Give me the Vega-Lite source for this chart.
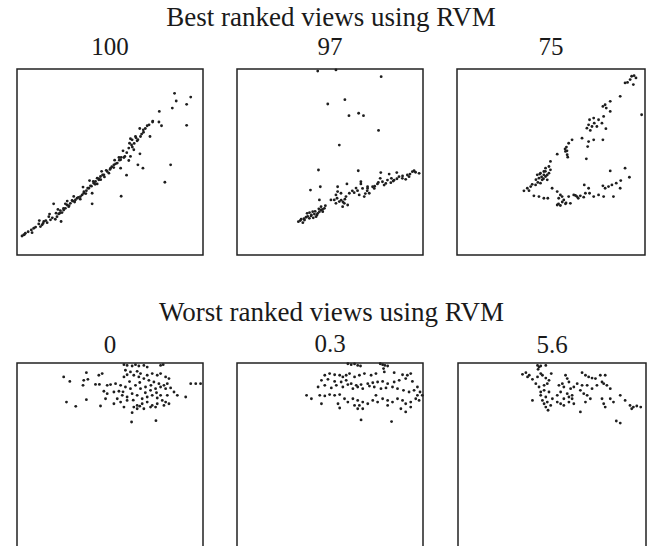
{
"$schema":"https://vega.github.io/schema/vega-lite/v6.json",
"background":"white",
"padding":{"left":16,"top":3,"right":4,"bottom":0},
"config":{"view":{"stroke":"#222","strokeWidth":1.5},"title":{"font":"Liberation Serif","fontSize":25,"fontWeight":"normal","color":"#1a1a1a","offset":6},"concat":{"spacing":32}},
"datasets":{"pts":[
{"p":"100","x":84.7,"y":86.9},{"p":"100","x":93.4,"y":84.9},{"p":"100","x":85.6,"y":82.8},{"p":"100","x":91.2,"y":81.0},{"p":"100","x":83.5,"y":79.0},{"p":"100","x":76.5,"y":77.2},{"p":"100","x":76.3,"y":71.5},{"p":"100","x":72.9,"y":71.5},{"p":"100","x":77.7,"y":69.5},{"p":"100","x":91.2,"y":69.7},{"p":"100","x":70.0,"y":69.5},{"p":"100","x":67.9,"y":67.3},{"p":"100","x":71.5,"y":63.7},{"p":"100","x":66.4,"y":63.7},{"p":"100","x":63.7,"y":63.7},{"p":"100","x":61.9,"y":61.9},{"p":"100","x":64.6,"y":61.4},{"p":"100","x":60.5,"y":60.1},{"p":"100","x":61.6,"y":59.2},{"p":"100","x":60.1,"y":57.5},{"p":"100","x":62.8,"y":56.6},{"p":"100","x":66.1,"y":54.4},{"p":"100","x":61.0,"y":53.0},{"p":"100","x":57.5,"y":52.4},{"p":"100","x":54.8,"y":52.4},{"p":"100","x":55.7,"y":51.2},{"p":"100","x":60.1,"y":50.8},{"p":"100","x":53.9,"y":49.4},{"p":"100","x":52.1,"y":48.5},{"p":"100","x":65.0,"y":48.5},{"p":"100","x":67.7,"y":46.7},{"p":"100","x":82.6,"y":48.5},{"p":"100","x":55.7,"y":46.7},{"p":"100","x":50.3,"y":46.7},{"p":"100","x":48.5,"y":44.9},{"p":"100","x":49.4,"y":44.0},{"p":"100","x":46.7,"y":43.1},{"p":"100","x":58.9,"y":42.9},{"p":"100","x":44.9,"y":42.2},{"p":"100","x":43.1,"y":41.3},{"p":"100","x":44.0,"y":40.4},{"p":"100","x":42.2,"y":39.5},{"p":"100","x":41.3,"y":38.6},{"p":"100","x":43.1,"y":38.2},{"p":"100","x":79.5,"y":39.1},{"p":"100","x":39.5,"y":37.2},{"p":"100","x":38.6,"y":35.9},{"p":"100","x":37.3,"y":34.6},{"p":"100","x":35.9,"y":33.2},{"p":"100","x":35.0,"y":32.3},{"p":"100","x":40.4,"y":33.2},{"p":"100","x":56.0,"y":31.6},{"p":"100","x":34.1,"y":31.4},{"p":"100","x":32.3,"y":30.5},{"p":"100","x":31.4,"y":29.6},{"p":"100","x":29.6,"y":29.3},{"p":"100","x":28.7,"y":27.8},{"p":"100","x":40.4,"y":27.5},{"p":"100","x":26.9,"y":26.9},{"p":"100","x":27.8,"y":26.0},{"p":"100","x":26.0,"y":25.1},{"p":"100","x":25.1,"y":24.2},{"p":"100","x":23.3,"y":23.9},{"p":"100","x":24.2,"y":22.8},{"p":"100","x":22.4,"y":22.1},{"p":"100","x":19.7,"y":27.5},{"p":"100","x":21.5,"y":20.6},{"p":"100","x":23.7,"y":18.0},{"p":"100","x":20.6,"y":19.2},{"p":"100","x":17.1,"y":20.6},{"p":"100","x":18.0,"y":18.9},{"p":"100","x":16.2,"y":17.4},{"p":"100","x":14.4,"y":18.0},{"p":"100","x":13.5,"y":16.2},{"p":"100","x":11.7,"y":16.7},{"p":"100","x":12.6,"y":15.3},{"p":"100","x":9.0,"y":14.4},{"p":"100","x":7.7,"y":13.5},{"p":"100","x":8.1,"y":12.0},{"p":"100","x":4.5,"y":11.7},{"p":"100","x":3.6,"y":10.8},{"p":"100","x":2.7,"y":10.2},
{"p":"100","x":4.0,"y":11.0},{"p":"100","x":6.0,"y":12.5},{"p":"100","x":10.0,"y":15.0},{"p":"100","x":14.0,"y":17.0},{"p":"100","x":15.5,"y":18.5},{"p":"100","x":19.0,"y":20.0},{"p":"100","x":21.0,"y":22.5},{"p":"100","x":23.0,"y":22.5},{"p":"100","x":25.0,"y":25.0},{"p":"100","x":26.0,"y":27.5},{"p":"100","x":28.0,"y":26.5},{"p":"100","x":30.0,"y":29.0},{"p":"100","x":31.0,"y":28.5},{"p":"100","x":33.0,"y":31.0},{"p":"100","x":34.0,"y":30.0},{"p":"100","x":36.0,"y":34.0},{"p":"100","x":37.0,"y":33.0},{"p":"100","x":38.0,"y":36.0},{"p":"100","x":40.0,"y":37.0},{"p":"100","x":41.0,"y":39.5},{"p":"100","x":42.0,"y":38.0},{"p":"100","x":44.0,"y":41.0},{"p":"100","x":45.0,"y":40.5},{"p":"100","x":46.0,"y":43.0},{"p":"100","x":47.0,"y":42.0},{"p":"100","x":48.0,"y":45.5},{"p":"100","x":50.0,"y":46.0},{"p":"100","x":51.0,"y":47.5},{"p":"100","x":52.0,"y":47.0},{"p":"100","x":53.0,"y":49.0},{"p":"100","x":55.0,"y":51.0},{"p":"100","x":56.0,"y":52.5},{"p":"100","x":58.0,"y":53.0},{"p":"100","x":59.0,"y":55.0},{"p":"100","x":62.0,"y":58.0},{"p":"100","x":63.0,"y":60.0},{"p":"100","x":65.0,"y":62.0},{"p":"100","x":67.0,"y":65.0},{"p":"100","x":69.0,"y":68.0},{"p":"100","x":71.0,"y":70.0},{"p":"100","x":73.0,"y":72.0},{"p":"100","x":68.0,"y":66.0},{"p":"100","x":64.0,"y":63.0},
{"p":"100","x":30.5,"y":31.5},{"p":"100","x":27.0,"y":29.0},{"p":"100","x":22.0,"y":24.5},{"p":"100","x":17.5,"y":22.0},{"p":"100","x":12.0,"y":18.5},{"p":"100","x":35.5,"y":36.5},{"p":"100","x":39.0,"y":40.0},{"p":"100","x":45.5,"y":45.0},{"p":"100","x":52.5,"y":51.0},{"p":"100","x":57.0,"y":56.0},{"p":"100","x":61.0,"y":62.5},{"p":"100","x":66.0,"y":68.0},
{"p":"97","x":43.4,"y":98.9},{"p":"97","x":53.2,"y":99.5},{"p":"97","x":77.5,"y":95.9},{"p":"97","x":48.8,"y":81.2},{"p":"97","x":58.0,"y":83.5},{"p":"97","x":60.2,"y":74.9},{"p":"97","x":65.4,"y":76.2},{"p":"97","x":68.0,"y":74.9},{"p":"97","x":76.1,"y":67.0},{"p":"97","x":55.0,"y":59.1},{"p":"97","x":43.8,"y":45.7},{"p":"97","x":65.2,"y":45.3},{"p":"97","x":39.5,"y":34.9},{"p":"97","x":44.8,"y":36.7},{"p":"97","x":44.3,"y":29.6},{"p":"97","x":54.1,"y":36.7},{"p":"97","x":59.1,"y":38.2},{"p":"97","x":66.6,"y":39.4},{"p":"97","x":77.3,"y":44.3},{"p":"97","x":81.8,"y":43.5},{"p":"97","x":85.9,"y":44.3},{"p":"97","x":94.3,"y":44.8},{"p":"97","x":97.9,"y":43.9},{"p":"97","x":92.5,"y":42.1},{"p":"97","x":88.9,"y":41.2},{"p":"97","x":84.5,"y":40.3},{"p":"97","x":80.9,"y":40.3},{"p":"97","x":78.2,"y":39.4},{"p":"97","x":75.5,"y":38.2},{"p":"97","x":72.9,"y":36.7},{"p":"97","x":70.2,"y":35.8},{"p":"97","x":67.5,"y":35.8},{"p":"97","x":64.8,"y":34.6},{"p":"97","x":63.0,"y":33.5},{"p":"97","x":65.7,"y":32.3},{"p":"97","x":68.4,"y":31.4},{"p":"97","x":71.1,"y":33.2},{"p":"97","x":73.8,"y":35.8},{"p":"97","x":79.1,"y":37.6},{"p":"97","x":82.7,"y":38.9},{"p":"97","x":54.1,"y":34.1},{"p":"97","x":53.2,"y":32.3},{"p":"97","x":55.9,"y":33.2},{"p":"97","x":58.6,"y":31.4},{"p":"97","x":57.7,"y":27.8},{"p":"97","x":55.0,"y":28.7},{"p":"97","x":53.2,"y":27.8},{"p":"97","x":52.3,"y":29.6},{"p":"97","x":59.5,"y":26.9},{"p":"97","x":56.8,"y":26.0},{"p":"97","x":50.5,"y":29.6},{"p":"97","x":47.0,"y":25.1},{"p":"97","x":45.2,"y":24.2},{"p":"97","x":44.3,"y":23.3},{"p":"97","x":43.4,"y":22.4},{"p":"97","x":41.6,"y":22.0},{"p":"97","x":42.5,"y":20.6},{"p":"97","x":39.8,"y":21.0},{"p":"97","x":38.9,"y":19.7},{"p":"97","x":37.1,"y":20.3},{"p":"97","x":36.3,"y":18.8},{"p":"97","x":35.4,"y":17.4},{"p":"97","x":34.5,"y":19.2},{"p":"97","x":33.0,"y":17.9},{"p":"97","x":37.7,"y":22.4},{"p":"97","x":40.7,"y":23.3},{"p":"97","x":46.1,"y":23.3},{"p":"97","x":45.2,"y":26.0},{"p":"97","x":60.4,"y":33.2},{"p":"97","x":66.6,"y":38.2},{"p":"97","x":70.2,"y":36.7},{"p":"97","x":91.6,"y":43.0},{"p":"97","x":95.2,"y":45.3},{"p":"97","x":87.1,"y":42.1},{"p":"97","x":90.7,"y":40.7},{"p":"97","x":83.0,"y":41.2},{"p":"97","x":77.0,"y":41.2},
{"p":"97","x":40.0,"y":21.5},{"p":"97","x":41.0,"y":20.0},{"p":"97","x":43.0,"y":21.5},{"p":"97","x":38.0,"y":20.8},{"p":"97","x":36.0,"y":19.5},{"p":"97","x":42.0,"y":23.5},{"p":"97","x":44.0,"y":24.8},{"p":"97","x":39.0,"y":22.8},{"p":"97","x":46.0,"y":24.5},{"p":"97","x":47.5,"y":26.5},{"p":"97","x":34.0,"y":18.5},{"p":"97","x":53.8,"y":30.5},{"p":"97","x":56.0,"y":29.5},{"p":"97","x":58.0,"y":30.0},{"p":"97","x":57.0,"y":28.5},{"p":"97","x":62.0,"y":34.5},{"p":"97","x":64.0,"y":36.0},{"p":"97","x":69.0,"y":33.0},{"p":"97","x":70.0,"y":34.5},{"p":"97","x":74.0,"y":37.0},{"p":"97","x":76.0,"y":39.0},{"p":"97","x":80.0,"y":38.5},{"p":"97","x":84.0,"y":39.8},{"p":"97","x":86.0,"y":41.0},{"p":"97","x":89.0,"y":42.5},{"p":"97","x":93.0,"y":43.5},{"p":"97","x":96.0,"y":44.5},
{"p":"75","x":89.4,"y":92.5},{"p":"75","x":92.1,"y":94.3},{"p":"75","x":92.9,"y":96.1},{"p":"75","x":94.2,"y":96.4},{"p":"75","x":95.2,"y":95.2},{"p":"75","x":93.8,"y":91.6},{"p":"75","x":90.7,"y":92.8},{"p":"75","x":86.8,"y":85.3},{"p":"75","x":98.2,"y":75.4},{"p":"75","x":81.5,"y":82.6},{"p":"75","x":78.8,"y":80.8},{"p":"75","x":77.6,"y":79.9},{"p":"75","x":79.4,"y":79.0},{"p":"75","x":81.5,"y":77.2},{"p":"75","x":78.0,"y":74.5},{"p":"75","x":75.3,"y":72.7},{"p":"75","x":72.7,"y":73.6},{"p":"75","x":70.5,"y":72.7},{"p":"75","x":73.0,"y":70.9},{"p":"75","x":70.0,"y":70.0},{"p":"75","x":71.8,"y":69.1},{"p":"75","x":69.1,"y":68.2},{"p":"75","x":70.9,"y":67.0},{"p":"75","x":74.4,"y":69.1},{"p":"75","x":77.1,"y":70.9},{"p":"75","x":79.2,"y":67.9},{"p":"75","x":66.5,"y":62.8},{"p":"75","x":70.0,"y":61.0},{"p":"75","x":77.6,"y":61.9},{"p":"75","x":72.7,"y":61.9},{"p":"75","x":69.5,"y":58.3},{"p":"75","x":68.8,"y":51.7},{"p":"75","x":61.2,"y":61.9},{"p":"75","x":59.4,"y":60.1},{"p":"75","x":58.2,"y":58.0},{"p":"75","x":57.7,"y":55.7},{"p":"75","x":58.6,"y":53.9},{"p":"75","x":58.9,"y":52.6},{"p":"75","x":53.3,"y":54.2},{"p":"75","x":49.7,"y":50.3},{"p":"75","x":48.9,"y":47.6},{"p":"75","x":47.1,"y":46.7},{"p":"75","x":46.2,"y":44.9},{"p":"75","x":44.4,"y":44.0},{"p":"75","x":42.7,"y":43.1},{"p":"75","x":43.6,"y":41.3},{"p":"75","x":45.3,"y":40.4},{"p":"75","x":47.1,"y":42.2},{"p":"75","x":48.0,"y":40.4},{"p":"75","x":44.4,"y":38.6},{"p":"75","x":41.8,"y":37.7},{"p":"75","x":39.2,"y":36.8},{"p":"75","x":37.4,"y":35.9},{"p":"75","x":35.6,"y":34.5},{"p":"75","x":38.3,"y":34.6},{"p":"75","x":40.9,"y":31.8},{"p":"75","x":43.6,"y":31.4},{"p":"75","x":46.2,"y":30.5},{"p":"75","x":48.3,"y":30.5},{"p":"75","x":50.6,"y":35.9},{"p":"75","x":53.3,"y":34.1},{"p":"75","x":55.0,"y":32.3},{"p":"75","x":54.1,"y":30.5},{"p":"75","x":55.9,"y":31.4},{"p":"75","x":56.8,"y":29.6},{"p":"75","x":53.3,"y":26.9},{"p":"75","x":55.0,"y":26.6},{"p":"75","x":57.7,"y":27.5},{"p":"75","x":60.3,"y":27.8},{"p":"75","x":59.4,"y":31.4},{"p":"75","x":62.1,"y":32.3},{"p":"75","x":63.8,"y":31.4},{"p":"75","x":65.6,"y":31.8},{"p":"75","x":67.4,"y":31.1},{"p":"75","x":68.3,"y":33.2},{"p":"75","x":67.7,"y":37.7},{"p":"75","x":70.0,"y":35.9},{"p":"75","x":70.5,"y":33.2},{"p":"75","x":72.7,"y":31.4},{"p":"75","x":75.3,"y":32.3},{"p":"75","x":78.0,"y":31.4},{"p":"75","x":77.6,"y":37.2},{"p":"75","x":80.6,"y":36.8},{"p":"75","x":82.4,"y":37.7},{"p":"75","x":84.7,"y":38.6},{"p":"75","x":87.1,"y":40.0},{"p":"75","x":89.4,"y":46.7},{"p":"75","x":91.7,"y":41.8},{"p":"75","x":81.5,"y":45.2},{"p":"75","x":83.2,"y":31.4},{"p":"75","x":86.8,"y":35.9},{"p":"75","x":78.8,"y":35.9},{"p":"75","x":48.9,"y":44.0},{"p":"75","x":46.2,"y":43.1},{"p":"75","x":49.7,"y":45.8},
{"p":"75","x":45.0,"y":42.0},{"p":"75","x":46.0,"y":41.0},{"p":"75","x":44.0,"y":43.5},{"p":"75","x":47.0,"y":45.0},{"p":"75","x":48.0,"y":43.0},{"p":"75","x":43.0,"y":39.0},{"p":"75","x":42.0,"y":40.5},{"p":"75","x":40.0,"y":38.0},{"p":"75","x":57.5,"y":57.0},{"p":"75","x":58.5,"y":56.0},{"p":"75","x":63.0,"y":32.0},{"p":"75","x":64.5,"y":30.5},{"p":"75","x":56.0,"y":28.5},{"p":"75","x":58.0,"y":28.0},{"p":"75","x":54.0,"y":27.5},
{"p":"0","x":57.5,"y":99.1},{"p":"0","x":59.2,"y":98.7},{"p":"0","x":61.9,"y":98.4},{"p":"0","x":63.7,"y":99.1},{"p":"0","x":65.5,"y":98.4},{"p":"0","x":68.2,"y":98.7},{"p":"0","x":70.0,"y":97.8},{"p":"0","x":77.2,"y":98.7},{"p":"0","x":78.6,"y":99.1},{"p":"0","x":58.3,"y":96.1},{"p":"0","x":61.0,"y":95.2},{"p":"0","x":64.6,"y":95.5},{"p":"0","x":66.4,"y":94.3},{"p":"0","x":70.0,"y":93.4},{"p":"0","x":72.7,"y":94.3},{"p":"0","x":75.4,"y":93.4},{"p":"0","x":77.2,"y":94.3},{"p":"0","x":79.9,"y":92.5},{"p":"0","x":81.7,"y":91.6},{"p":"0","x":80.8,"y":88.9},{"p":"0","x":79.0,"y":88.0},{"p":"0","x":76.3,"y":88.9},{"p":"0","x":73.6,"y":89.8},{"p":"0","x":70.9,"y":90.7},{"p":"0","x":68.2,"y":91.6},{"p":"0","x":65.5,"y":92.5},{"p":"0","x":62.8,"y":93.4},{"p":"0","x":59.2,"y":93.7},{"p":"0","x":57.5,"y":92.5},{"p":"0","x":25.1,"y":92.5},{"p":"0","x":28.4,"y":90.1},{"p":"0","x":37.3,"y":94.8},{"p":"0","x":44.0,"y":93.4},{"p":"0","x":45.8,"y":94.3},{"p":"0","x":35.9,"y":90.7},{"p":"0","x":38.1,"y":91.2},{"p":"0","x":35.5,"y":88.0},{"p":"0","x":42.2,"y":88.5},{"p":"0","x":44.3,"y":88.5},{"p":"0","x":48.5,"y":88.0},{"p":"0","x":50.3,"y":88.4},{"p":"0","x":53.0,"y":88.9},{"p":"0","x":55.7,"y":88.0},{"p":"0","x":58.3,"y":87.1},{"p":"0","x":61.0,"y":86.2},{"p":"0","x":63.7,"y":88.0},{"p":"0","x":66.4,"y":86.2},{"p":"0","x":69.1,"y":87.1},{"p":"0","x":71.8,"y":85.3},{"p":"0","x":74.5,"y":86.2},{"p":"0","x":77.2,"y":87.1},{"p":"0","x":79.9,"y":86.2},{"p":"0","x":82.6,"y":86.6},{"p":"0","x":84.4,"y":84.4},{"p":"0","x":86.2,"y":82.6},{"p":"0","x":90.7,"y":81.7},{"p":"0","x":93.4,"y":88.9},{"p":"0","x":96.1,"y":88.9},{"p":"0","x":98.7,"y":88.9},{"p":"0","x":46.7,"y":84.8},{"p":"0","x":48.5,"y":83.5},{"p":"0","x":52.1,"y":84.4},{"p":"0","x":54.8,"y":84.8},{"p":"0","x":56.6,"y":82.6},{"p":"0","x":59.2,"y":81.7},{"p":"0","x":61.9,"y":83.5},{"p":"0","x":64.6,"y":82.6},{"p":"0","x":67.3,"y":80.8},{"p":"0","x":70.0,"y":81.7},{"p":"0","x":72.7,"y":82.6},{"p":"0","x":75.4,"y":81.2},{"p":"0","x":78.1,"y":79.9},{"p":"0","x":79.9,"y":79.0},{"p":"0","x":81.7,"y":78.1},{"p":"0","x":79.0,"y":77.2},{"p":"0","x":75.4,"y":78.1},{"p":"0","x":72.7,"y":77.2},{"p":"0","x":70.0,"y":79.0},{"p":"0","x":67.3,"y":78.1},{"p":"0","x":64.6,"y":77.2},{"p":"0","x":62.8,"y":76.3},{"p":"0","x":64.6,"y":75.4},{"p":"0","x":68.2,"y":75.4},{"p":"0","x":71.8,"y":76.3},{"p":"0","x":74.5,"y":76.3},{"p":"0","x":59.2,"y":79.9},{"p":"0","x":55.7,"y":79.0},{"p":"0","x":53.9,"y":80.8},{"p":"0","x":47.6,"y":80.8},{"p":"0","x":44.9,"y":76.9},{"p":"0","x":37.3,"y":80.3},{"p":"0","x":26.6,"y":79.0},{"p":"0","x":31.6,"y":76.7},{"p":"0","x":61.9,"y":73.3},{"p":"0","x":61.6,"y":68.3},{"p":"0","x":74.7,"y":69.0},{"p":"0","x":57.5,"y":76.3},{"p":"0","x":52.1,"y":78.1},{"p":"0","x":77.2,"y":82.6},{"p":"0","x":80.8,"y":82.6},
{"p":"0","x":60.5,"y":90.0},{"p":"0","x":66.0,"y":89.5},{"p":"0","x":72.0,"y":88.0},{"p":"0","x":62.5,"y":80.0},{"p":"0","x":69.0,"y":84.0},{"p":"0","x":57.0,"y":84.5},{"p":"0","x":75.0,"y":84.0},{"p":"0","x":66.0,"y":76.8},
{"p":"0.3","x":59.6,"y":99.6},{"p":"0.3","x":61.4,"y":99.1},{"p":"0.3","x":63.2,"y":99.5},{"p":"0.3","x":64.9,"y":98.7},{"p":"0.3","x":66.4,"y":98.4},{"p":"0.3","x":77.0,"y":99.6},{"p":"0.3","x":78.3,"y":99.1},{"p":"0.3","x":79.5,"y":98.7},{"p":"0.3","x":81.0,"y":98.4},{"p":"0.3","x":78.8,"y":97.0},{"p":"0.3","x":47.2,"y":93.4},{"p":"0.3","x":49.8,"y":94.3},{"p":"0.3","x":52.5,"y":93.7},{"p":"0.3","x":55.2,"y":93.4},{"p":"0.3","x":56.9,"y":92.5},{"p":"0.3","x":58.7,"y":93.4},{"p":"0.3","x":60.5,"y":94.3},{"p":"0.3","x":63.2,"y":92.5},{"p":"0.3","x":65.8,"y":93.4},{"p":"0.3","x":68.5,"y":94.3},{"p":"0.3","x":72.1,"y":93.4},{"p":"0.3","x":74.7,"y":94.3},{"p":"0.3","x":79.2,"y":95.2},{"p":"0.3","x":84.5,"y":94.8},{"p":"0.3","x":89.0,"y":93.7},{"p":"0.3","x":91.6,"y":93.4},{"p":"0.3","x":93.4,"y":94.3},{"p":"0.3","x":45.4,"y":90.7},{"p":"0.3","x":48.9,"y":91.2},{"p":"0.3","x":52.5,"y":90.1},{"p":"0.3","x":56.0,"y":89.8},{"p":"0.3","x":58.7,"y":90.7},{"p":"0.3","x":61.4,"y":88.9},{"p":"0.3","x":64.1,"y":88.0},{"p":"0.3","x":66.7,"y":88.4},{"p":"0.3","x":70.3,"y":88.9},{"p":"0.3","x":73.0,"y":89.4},{"p":"0.3","x":75.6,"y":89.8},{"p":"0.3","x":78.3,"y":90.1},{"p":"0.3","x":81.0,"y":88.9},{"p":"0.3","x":84.5,"y":89.8},{"p":"0.3","x":87.2,"y":90.7},{"p":"0.3","x":90.7,"y":91.6},{"p":"0.3","x":94.3,"y":90.1},{"p":"0.3","x":97.0,"y":87.1},{"p":"0.3","x":43.6,"y":87.1},{"p":"0.3","x":47.2,"y":88.0},{"p":"0.3","x":50.7,"y":86.6},{"p":"0.3","x":53.4,"y":88.0},{"p":"0.3","x":56.9,"y":87.1},{"p":"0.3","x":59.6,"y":88.4},{"p":"0.3","x":62.3,"y":86.2},{"p":"0.3","x":64.9,"y":87.1},{"p":"0.3","x":67.6,"y":86.2},{"p":"0.3","x":71.2,"y":87.6},{"p":"0.3","x":73.8,"y":87.1},{"p":"0.3","x":77.4,"y":86.2},{"p":"0.3","x":80.1,"y":86.6},{"p":"0.3","x":83.6,"y":87.1},{"p":"0.3","x":86.3,"y":86.2},{"p":"0.3","x":89.5,"y":85.3},{"p":"0.3","x":92.5,"y":84.4},{"p":"0.3","x":95.2,"y":85.3},{"p":"0.3","x":98.4,"y":84.4},{"p":"0.3","x":99.6,"y":82.6},{"p":"0.3","x":37.4,"y":82.6},{"p":"0.3","x":40.0,"y":80.8},{"p":"0.3","x":44.5,"y":82.6},{"p":"0.3","x":47.2,"y":82.3},{"p":"0.3","x":49.8,"y":83.0},{"p":"0.3","x":52.5,"y":82.6},{"p":"0.3","x":55.2,"y":83.0},{"p":"0.3","x":57.8,"y":80.8},{"p":"0.3","x":59.6,"y":79.0},{"p":"0.3","x":62.3,"y":80.8},{"p":"0.3","x":64.9,"y":79.9},{"p":"0.3","x":67.6,"y":79.0},{"p":"0.3","x":65.8,"y":77.2},{"p":"0.3","x":63.2,"y":77.2},{"p":"0.3","x":70.3,"y":78.1},{"p":"0.3","x":73.0,"y":79.9},{"p":"0.3","x":75.6,"y":79.0},{"p":"0.3","x":78.3,"y":80.8},{"p":"0.3","x":81.0,"y":79.9},{"p":"0.3","x":83.6,"y":79.0},{"p":"0.3","x":86.3,"y":80.8},{"p":"0.3","x":89.0,"y":79.9},{"p":"0.3","x":90.7,"y":78.1},{"p":"0.3","x":93.4,"y":79.0},{"p":"0.3","x":96.1,"y":80.8},{"p":"0.3","x":97.9,"y":79.9},{"p":"0.3","x":45.4,"y":78.1},{"p":"0.3","x":54.3,"y":78.1},{"p":"0.3","x":55.2,"y":75.8},{"p":"0.3","x":64.9,"y":75.4},{"p":"0.3","x":67.6,"y":75.4},{"p":"0.3","x":81.0,"y":77.2},{"p":"0.3","x":88.1,"y":75.4},{"p":"0.3","x":90.7,"y":73.7},{"p":"0.3","x":66.7,"y":69.4},{"p":"0.3","x":83.1,"y":68.5},{"p":"0.3","x":93.4,"y":76.3},{"p":"0.3","x":97.0,"y":82.6},{"p":"0.3","x":74.7,"y":82.6},
{"p":"5.6","x":42.3,"y":98.7},{"p":"5.6","x":43.1,"y":97.8},{"p":"5.6","x":44.0,"y":98.4},{"p":"5.6","x":46.7,"y":98.7},{"p":"5.6","x":42.6,"y":96.6},{"p":"5.6","x":44.0,"y":94.3},{"p":"5.6","x":34.3,"y":93.9},{"p":"5.6","x":36.1,"y":94.8},{"p":"5.6","x":37.9,"y":93.4},{"p":"5.6","x":37.0,"y":92.5},{"p":"5.6","x":39.6,"y":91.2},{"p":"5.6","x":42.3,"y":92.5},{"p":"5.6","x":44.9,"y":93.4},{"p":"5.6","x":46.7,"y":91.9},{"p":"5.6","x":49.6,"y":94.3},{"p":"5.6","x":48.4,"y":90.7},{"p":"5.6","x":41.4,"y":88.9},{"p":"5.6","x":43.1,"y":87.1},{"p":"5.6","x":45.8,"y":88.0},{"p":"5.6","x":47.5,"y":88.9},{"p":"5.6","x":44.0,"y":84.4},{"p":"5.6","x":45.8,"y":85.3},{"p":"5.6","x":48.4,"y":84.4},{"p":"5.6","x":44.0,"y":82.6},{"p":"5.6","x":46.7,"y":81.7},{"p":"5.6","x":44.9,"y":79.9},{"p":"5.6","x":45.8,"y":78.1},{"p":"5.6","x":47.5,"y":79.0},{"p":"5.6","x":49.3,"y":77.2},{"p":"5.6","x":47.9,"y":74.6},{"p":"5.6","x":46.7,"y":76.3},{"p":"5.6","x":39.6,"y":79.9},{"p":"5.6","x":53.7,"y":88.0},{"p":"5.6","x":55.5,"y":88.9},{"p":"5.6","x":57.2,"y":93.4},{"p":"5.6","x":58.1,"y":91.6},{"p":"5.6","x":59.0,"y":89.8},{"p":"5.6","x":56.3,"y":87.1},{"p":"5.6","x":59.9,"y":86.2},{"p":"5.6","x":54.6,"y":84.4},{"p":"5.6","x":58.1,"y":83.5},{"p":"5.6","x":60.7,"y":82.6},{"p":"5.6","x":59.0,"y":81.7},{"p":"5.6","x":61.6,"y":87.1},{"p":"5.6","x":63.4,"y":88.9},{"p":"5.6","x":66.0,"y":94.8},{"p":"5.6","x":67.8,"y":93.4},{"p":"5.6","x":69.5,"y":92.5},{"p":"5.6","x":71.3,"y":91.9},{"p":"5.6","x":73.1,"y":91.6},{"p":"5.6","x":75.7,"y":93.4},{"p":"5.6","x":78.3,"y":93.4},{"p":"5.6","x":76.6,"y":89.8},{"p":"5.6","x":79.2,"y":88.0},{"p":"5.6","x":81.0,"y":86.2},{"p":"5.6","x":77.5,"y":88.9},{"p":"5.6","x":68.7,"y":88.0},{"p":"5.6","x":66.0,"y":88.0},{"p":"5.6","x":65.1,"y":85.3},{"p":"5.6","x":66.9,"y":83.5},{"p":"5.6","x":68.7,"y":82.6},{"p":"5.6","x":70.4,"y":80.8},{"p":"5.6","x":67.8,"y":79.0},{"p":"5.6","x":65.1,"y":73.7},{"p":"5.6","x":52.8,"y":79.0},{"p":"5.6","x":54.6,"y":78.1},{"p":"5.6","x":56.3,"y":77.2},{"p":"5.6","x":59.0,"y":79.0},{"p":"5.6","x":61.6,"y":78.1},{"p":"5.6","x":60.7,"y":80.8},{"p":"5.6","x":56.3,"y":80.8},{"p":"5.6","x":76.6,"y":80.8},{"p":"5.6","x":77.5,"y":78.1},{"p":"5.6","x":78.3,"y":76.3},{"p":"5.6","x":81.0,"y":80.8},{"p":"5.6","x":82.7,"y":79.0},{"p":"5.6","x":86.3,"y":82.6},{"p":"5.6","x":88.9,"y":79.9},{"p":"5.6","x":91.5,"y":77.2},{"p":"5.6","x":93.3,"y":76.3},{"p":"5.6","x":92.4,"y":75.4},{"p":"5.6","x":95.1,"y":76.9},{"p":"5.6","x":97.2,"y":76.3},{"p":"5.6","x":84.2,"y":68.8},{"p":"5.6","x":86.3,"y":67.7},{"p":"5.6","x":52.8,"y":82.6},{"p":"5.6","x":50.2,"y":80.8},{"p":"5.6","x":71.3,"y":86.2},{"p":"5.6","x":73.9,"y":88.0}
]},
"vconcat":[
{"title":{"text":"Best ranked views using RVM","anchor":"middle","offset":2,"fontSize":27},"hconcat":[
{"title":{"text":"100","offset":9},"width":186,"height":186,"data":{"name":"pts"},"transform":[{"filter":"datum.p === '100'"}],"mark":{"type":"circle","size":8,"opacity":1,"color":"#1e1e1e"},"encoding":{"x":{"field":"x","type":"quantitative","scale":{"domain":[0,100]},"axis":null},"y":{"field":"y","type":"quantitative","scale":{"domain":[0,100]},"axis":null}}},
{"title":{"text":"97","offset":9},"width":186,"height":186,"data":{"name":"pts"},"transform":[{"filter":"datum.p === '97'"}],"mark":{"type":"circle","size":8,"opacity":1,"color":"#1e1e1e"},"encoding":{"x":{"field":"x","type":"quantitative","scale":{"domain":[0,100]},"axis":null},"y":{"field":"y","type":"quantitative","scale":{"domain":[0,100]},"axis":null}}},
{"title":{"text":"75","offset":9},"width":188,"height":186,"data":{"name":"pts"},"transform":[{"filter":"datum.p === '75'"}],"mark":{"type":"circle","size":8,"opacity":1,"color":"#1e1e1e"},"encoding":{"x":{"field":"x","type":"quantitative","scale":{"domain":[0,100]},"axis":null},"y":{"field":"y","type":"quantitative","scale":{"domain":[0,100]},"axis":null}}}
]},
{"title":{"text":"Worst ranked views using RVM","anchor":"middle","offset":5,"fontSize":27},"hconcat":[
{"title":{"text":"0","offset":5},"width":186,"height":186,"data":{"name":"pts"},"transform":[{"filter":"datum.p === '0'"}],"mark":{"type":"circle","size":8,"opacity":1,"color":"#1e1e1e"},"encoding":{"x":{"field":"x","type":"quantitative","scale":{"domain":[0,100]},"axis":null},"y":{"field":"y","type":"quantitative","scale":{"domain":[0,100]},"axis":null}}},
{"title":{"text":"0.3","offset":5},"width":186,"height":186,"data":{"name":"pts"},"transform":[{"filter":"datum.p === '0.3'"}],"mark":{"type":"circle","size":8,"opacity":1,"color":"#1e1e1e"},"encoding":{"x":{"field":"x","type":"quantitative","scale":{"domain":[0,100]},"axis":null},"y":{"field":"y","type":"quantitative","scale":{"domain":[0,100]},"axis":null}}},
{"title":{"text":"5.6","offset":5},"width":188,"height":186,"data":{"name":"pts"},"transform":[{"filter":"datum.p === '5.6'"}],"mark":{"type":"circle","size":8,"opacity":1,"color":"#1e1e1e"},"encoding":{"x":{"field":"x","type":"quantitative","scale":{"domain":[0,100]},"axis":null},"y":{"field":"y","type":"quantitative","scale":{"domain":[0,100]},"axis":null}}}
]}
],
"spacing":42
}
